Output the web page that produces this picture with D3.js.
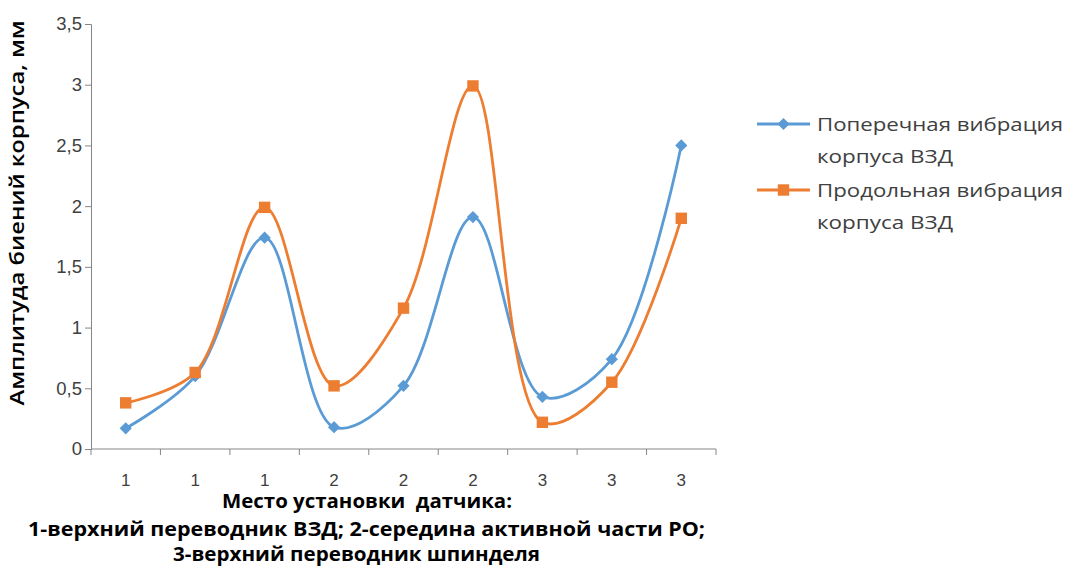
<!DOCTYPE html>
<html>
<head>
<meta charset="utf-8">
<script src="https://cdn.jsdelivr.net/npm/d3@7"></script>
<style>
  html, body { margin: 0; padding: 0; background: #fff; }
  svg { display: block; }
</style>
</head>
<body>
<svg id="chart" width="1067" height="566"></svg>
<script>
// Sensor position for each measurement
const categories = ["1", "1", "1", "2", "2", "2", "3", "3", "3"];
// Transverse vibration of the motor housing, mm
const transverse = [0.17, 0.60, 1.74, 0.18, 0.52, 1.91, 0.43, 0.74, 2.50];
// Longitudinal vibration of the motor housing, mm
const longitudinal = [0.38, 0.63, 1.99, 0.52, 1.16, 2.99, 0.22, 0.55, 1.90];
const yTicks = [0, 0.5, 1, 1.5, 2, 2.5, 3, 3.5];
const seriesNames = [
  ["Поперечная вибрация", "корпуса ВЗД"],
  ["Продольная вибрация", "корпуса ВЗД"]
];
const colors = ["#5B9BD5", "#ED7D31"];

const svg = d3.select("#chart");
const plot = { left: 91, right: 716, top: 24, bottom: 449 };

const x = d3.scaleBand()
  .domain(d3.range(categories.length))
  .range([plot.left, plot.right])
  .paddingInner(0).paddingOuter(0);
const y = d3.scaleLinear().domain([0, 3.5]).range([plot.bottom, plot.top]);

const axisColor = "#868686";
const labelFont = "'Liberation Sans', Arial, sans-serif";
const fmt = d => String(d).replace(".", ",");

// Y axis
const yAxis = svg.append("g")
  .attr("transform", `translate(${plot.left},0)`)
  .call(d3.axisLeft(y).tickValues(yTicks).tickFormat(fmt).tickSize(6).tickPadding(3));
yAxis.select(".domain").attr("stroke", axisColor);
yAxis.selectAll(".tick line").attr("stroke", axisColor);
yAxis.selectAll(".tick text")
  .attr("fill", "#404040")
  .style("font-family", labelFont)
  .style("font-size", "18.5px");

// X axis: tick marks at category boundaries, labels at centres
const xAxisG = svg.append("g").attr("transform", `translate(0,${plot.bottom})`);
xAxisG.append("line")
  .attr("x1", plot.left).attr("x2", plot.right)
  .attr("stroke", axisColor);
xAxisG.selectAll("line.tick")
  .data(d3.range(categories.length + 1))
  .join("line")
  .attr("class", "tick")
  .attr("x1", i => plot.left + i * x.step())
  .attr("x2", i => plot.left + i * x.step())
  .attr("y1", 0).attr("y2", 6)
  .attr("stroke", axisColor);
xAxisG.selectAll("text")
  .data(categories)
  .join("text")
  .attr("x", (d, i) => x(i) + x.bandwidth() / 2)
  .attr("y", 37)
  .attr("text-anchor", "middle")
  .attr("fill", "#404040")
  .style("font-family", labelFont)
  .style("font-size", "17px")
  .text(d => d);

// Series lines and markers
const cx = i => x(i) + x.bandwidth() / 2;
const line = d3.line()
  .x((d, i) => cx(i))
  .y(d => y(d))
  .curve(d3.curveCatmullRom.alpha(0.5));

const series = [transverse, longitudinal];
series.forEach((vals, s) => {
  svg.append("path")
    .datum(vals)
    .attr("d", line)
    .attr("fill", "none")
    .attr("stroke", colors[s])
    .attr("stroke-width", 2.8)
    .attr("stroke-linejoin", "round");
});

const diamond = d3.symbol().type(d3.symbolDiamond2).size(95);
const square = d3.symbol().type(d3.symbolSquare).size(130);

svg.append("g").selectAll("path")
  .data(transverse)
  .join("path")
  .attr("d", diamond)
  .attr("transform", (d, i) => `translate(${cx(i)},${y(d)})`)
  .attr("fill", colors[0]);

svg.append("g").selectAll("path")
  .data(longitudinal)
  .join("path")
  .attr("d", square)
  .attr("transform", (d, i) => `translate(${cx(i)},${y(d)})`)
  .attr("fill", colors[1]);

// Axis titles
const titleFont = "'Open Sans', 'Noto Sans', sans-serif";
svg.append("text")
  .attr("transform", "translate(24,213) rotate(-90)")
  .attr("text-anchor", "middle")
  .attr("fill", "#000")
  .attr("textLength", 385)
  .attr("lengthAdjust", "spacingAndGlyphs")
  .style("font-family", titleFont)
  .style("font-weight", "600")
  .style("font-size", "19px")
  .text("Амплитуда биений корпуса, мм");

const xTitle = [
  { text: "Место установки  датчика:", x0: 222, w: 290, base: 508 },
  { text: "1-верхний переводник ВЗД; 2-середина активной части РО;", x0: 28, w: 677, base: 536 },
  { text: "3-верхний переводник шпинделя", x0: 173, w: 367, base: 561 }
];
svg.append("g").selectAll("text")
  .data(xTitle)
  .join("text")
  .attr("x", d => d.x0)
  .attr("y", d => d.base)
  .attr("textLength", d => d.w)
  .attr("lengthAdjust", "spacingAndGlyphs")
  .attr("fill", "#000")
  .style("font-family", titleFont)
  .style("font-weight", "700")
  .style("font-size", "19px")
  .style("white-space", "pre")
  .text(d => d.text);

// Legend
const legendWidths = [[246, 136], [246, 136]];
const legend = svg.append("g");
seriesNames.forEach((lines, s) => {
  const ly = 124 + s * 66;
  legend.append("line")
    .attr("x1", 757).attr("x2", 810)
    .attr("y1", ly).attr("y2", ly)
    .attr("stroke", colors[s]).attr("stroke-width", 2.8);
  legend.append("path")
    .attr("d", s === 0 ? diamond : square)
    .attr("transform", `translate(783.5,${ly})`)
    .attr("fill", colors[s]);
  lines.forEach((t, k) => {
    legend.append("text")
      .attr("x", 817)
      .attr("y", ly + 7 + k * 32)
      .attr("fill", "#404040")
      .attr("textLength", legendWidths[s][k])
      .attr("lengthAdjust", "spacingAndGlyphs")
      .style("font-family", titleFont)
      .style("font-size", "18px")
      .text(t);
  });
});
</script>
</body>
</html>
